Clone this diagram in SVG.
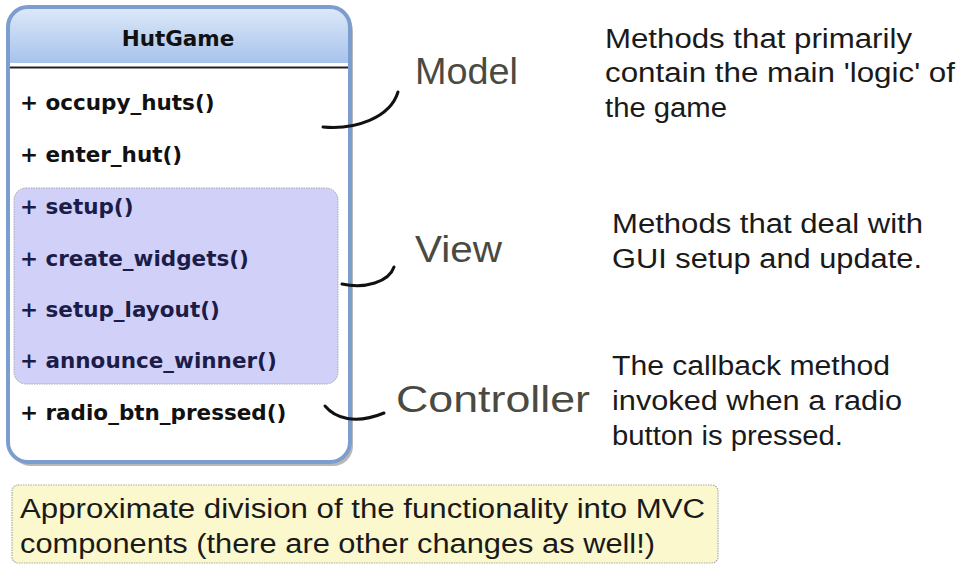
<svg xmlns="http://www.w3.org/2000/svg" width="966" height="565" viewBox="0 0 966 565">
<style>
.m{font-family:"DejaVu Sans",Verdana,sans-serif;font-weight:bold;font-size:21.5px;fill:#111}
.mv{fill:#1c1c48}
.lbl{font-family:"Liberation Sans",Arial,sans-serif;font-size:36px;fill:#4a4a42}
.d{font-family:"Liberation Sans",Arial,sans-serif;font-size:27px;fill:#1a1a1a}
.con{fill:none;stroke:#111;stroke-width:3;stroke-linecap:round}
</style>
<defs>
<linearGradient id="hg" x1="0" y1="0" x2="0" y2="1">
<stop offset="0" stop-color="#dde9f9"/>
<stop offset="1" stop-color="#a7c3eb"/>
</linearGradient>
<clipPath id="boxclip"><rect x="8" y="7" width="342" height="455" rx="20"/></clipPath>
</defs>
<g id="hutgame">
<rect x="11" y="11" width="342" height="455" rx="20" fill="#b8b8b8"/>
<rect x="8" y="7" width="342" height="455" rx="20" fill="#fff"/>
<g clip-path="url(#boxclip)">
<rect x="8" y="7" width="342" height="56" fill="url(#hg)"/>
<line x1="8" y1="67.5" x2="350" y2="67.5" stroke="#222" stroke-width="2"/>
</g>
<rect x="8" y="7" width="342" height="455" rx="20" fill="none" stroke="#7c9ece" stroke-width="4"/>
<text x="178" y="46" text-anchor="middle" class="m">HutGame</text>
<text x="20" y="110" class="m">+ occupy_huts()</text>
<text x="20" y="162" class="m">+ enter_hut()</text>
<rect x="14" y="188" width="324" height="196" rx="12" fill="#d0d0f8" stroke="#aaa" stroke-width="1" stroke-dasharray="1.5 1"/>
<text x="20" y="214" class="m mv">+ setup()</text>
<text x="20" y="266" class="m mv">+ create_widgets()</text>
<text x="20" y="317" class="m mv">+ setup_layout()</text>
<text x="20" y="368" class="m mv">+ announce_winner()</text>
<text x="20" y="420" class="m">+ radio_btn_pressed()</text>
</g>
<g id="connectors">
<path class="con" d="M323,127 C355,130 390,118 398,92"/>
<path class="con" d="M342,284 C365,289 389,282 394,267"/>
<path class="con" d="M325,406 C335,418 355,425 384,413"/>
</g>
<g id="model-label"><text x="415" y="84" class="lbl" textLength="103" lengthAdjust="spacingAndGlyphs">Model</text></g>
<g id="view-label"><text x="415" y="262" class="lbl" textLength="87" lengthAdjust="spacingAndGlyphs">View</text></g>
<g id="controller-label"><text x="396" y="412" class="lbl" textLength="194" lengthAdjust="spacingAndGlyphs">Controller</text></g>
<g id="model-desc">
<text x="605" y="48" class="d" textLength="307" lengthAdjust="spacingAndGlyphs">Methods that primarily</text>
<text x="605" y="82" class="d" textLength="350" lengthAdjust="spacingAndGlyphs">contain the main 'logic' of</text>
<text x="605" y="117" class="d" textLength="122" lengthAdjust="spacingAndGlyphs">the game</text>
</g>
<g id="view-desc">
<text x="612" y="233" class="d" textLength="311" lengthAdjust="spacingAndGlyphs">Methods that deal with</text>
<text x="612" y="268" class="d" textLength="310" lengthAdjust="spacingAndGlyphs">GUI setup and update.</text>
</g>
<g id="controller-desc">
<text x="612" y="375" class="d" textLength="278" lengthAdjust="spacingAndGlyphs">The callback method</text>
<text x="612" y="410" class="d" textLength="290" lengthAdjust="spacingAndGlyphs">invoked when a radio</text>
<text x="612" y="445" class="d" textLength="231" lengthAdjust="spacingAndGlyphs">button is pressed.</text>
</g>
<g id="note">
<rect x="12" y="485" width="706" height="78" rx="6" fill="#fbf8cd" stroke="#aaa" stroke-width="1.2" stroke-dasharray="1.5 1"/>
<text x="20" y="518" class="d" textLength="685" lengthAdjust="spacingAndGlyphs">Approximate division of the functionality into MVC</text>
<text x="20" y="553" class="d" textLength="635" lengthAdjust="spacingAndGlyphs">components (there are other changes as well!)</text>
</g>
</svg>
